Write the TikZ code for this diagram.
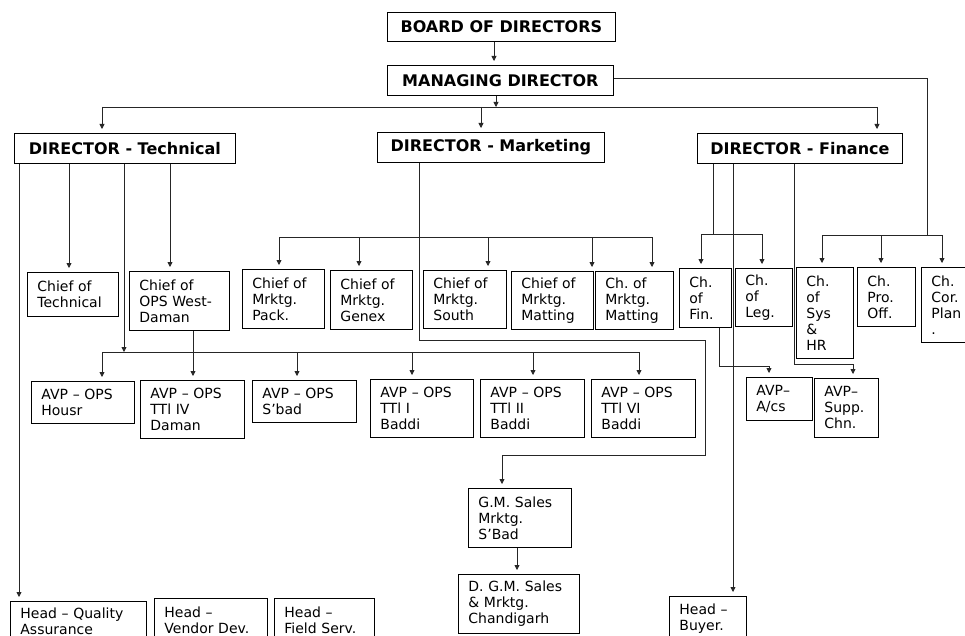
\documentclass[tikz,border=0pt]{standalone}
\usepackage{fontspec}
\setmainfont{DejaVu Sans}
\usetikzlibrary{arrows.meta}
\begin{document}
\begin{tikzpicture}[x=1pt,y=-1pt,
  box/.style={draw=black, line width=0.8pt, anchor=north west, inner ysep=0pt, font=\fontsize{14}{16}\selectfont},
  lbox/.style={box, inner xsep=10pt, align=left},
  tbox/.style={box, inner xsep=0pt, align=center, font=\bfseries\fontsize{16}{18}\selectfont},
  con/.style={line width=0.8pt, draw=black!85},
  arr/.style={con, -{Triangle[length=5pt,width=5pt]}},
  arrn/.style={arr, shorten >=4pt}]
\useasboundingbox (0,0) rectangle (965,636);
\clip (0,0) rectangle (965,636);
\fill[white] (0,0) rectangle (965,636);

% top levels
\node[tbox, minimum width=228pt, minimum height=29pt] (bod) at (387,12) {BOARD OF DIRECTORS};
\node[tbox, minimum width=226pt, minimum height=30pt] (md) at (387,65) {MANAGING DIRECTOR};
\node[tbox, minimum width=221pt, minimum height=30pt] (dt) at (14,133) {DIRECTOR - Technical};
\node[tbox, minimum width=227pt, minimum height=30pt] (dm) at (377,132) {DIRECTOR - Marketing};
\node[tbox, minimum width=205pt, minimum height=30pt] (df) at (697,133) {DIRECTOR - Finance};

% chiefs
\node[lbox, text width=71pt, minimum height=44pt] (cot) at (27,272) {Chief~of\\Technical};
\node[lbox, text width=80pt, minimum height=59pt] (cow) at (129,271) {Chief~of\\OPS~West-\\Daman};
\node[lbox, text width=62pt, minimum height=59pt] (cmp) at (242,269) {Chief~of\\Mrktg.\\Pack.};
\node[lbox, text width=62pt, minimum height=59pt] (cmg) at (330,270) {Chief~of\\Mrktg.\\Genex};
\node[lbox, text width=63pt, minimum height=58pt] (cms) at (423,270) {Chief~of\\Mrktg.\\South};
\node[lbox, text width=62pt, minimum height=58pt] (cmm) at (511,271) {Chief~of\\Mrktg.\\Matting};
\node[lbox, text width=58pt, minimum height=58pt] (cmm2) at (595,271) {Ch.~of\\Mrktg.\\Matting};
\node[lbox, text width=32pt, minimum height=59pt] (cfin) at (679,268) {Ch.\\of\\Fin.};
\node[lbox, text width=37pt, minimum height=58pt] (cleg) at (735,268) {Ch.\\of\\Leg.};
\node[lbox, text width=37pt, minimum height=91pt] (csys) at (796,267) {Ch.\\of\\Sys\\\&\\HR};
\node[lbox, text width=38pt, minimum height=59pt] (cpro) at (857,267) {Ch.\\Pro.\\Off.};
\node[lbox, text width=34pt, minimum height=75pt] (ccor) at (921,267) {Ch.\\Cor.\\Plan\\.};

% AVPs
\node[lbox, text width=83pt, minimum height=42pt] (ah) at (31,381) {AVP~–~OPS\\Housr};
\node[lbox, text width=84pt, minimum height=58pt] (a4) at (140,380) {AVP~–~OPS\\TTl~IV\\Daman};
\node[lbox, text width=84pt, minimum height=42pt] (asb) at (252,380) {AVP~–~OPS\\S’bad};
\node[lbox, text width=83pt, minimum height=58pt] (a1) at (370,379) {AVP~–~OPS\\TTl~I\\Baddi};
\node[lbox, text width=84pt, minimum height=58pt] (a2) at (480,379) {AVP~–~OPS\\TTl~II\\Baddi};
\node[lbox, text width=84pt, minimum height=58pt] (a6) at (591,379) {AVP~–~OPS\\TTl~VI\\Baddi};
\node[lbox, text width=46pt, minimum height=43pt] (aac) at (746,377) {AVP–\\A/cs};
\node[lbox, text width=44pt, minimum height=59pt] (asc) at (814,378) {AVP–\\Supp.\\Chn.};

% marketing lower
\node[lbox, text width=83pt, minimum height=59pt] (gms) at (468,488) {G.M.~Sales\\Mrktg.\\S’Bad};
\node[lbox, text width=101pt, minimum height=59pt] (dgm) at (458,574) {D.~G.M.~Sales\\\&~Mrktg.\\Chandigarh};

% heads
\node[lbox, text width=116pt, minimum height=40pt] (hqa) at (10,601) {Head~–~Quality\\Assurance};
\node[lbox, text width=93pt, minimum height=44pt] (hvd) at (154,598) {Head~–\\Vendor~Dev.};
\node[lbox, text width=80pt, minimum height=44pt] (hfs) at (274,598) {Head~–\\Field~Serv.};
\node[lbox, text width=57pt, minimum height=44pt] (hb) at (669,596) {Head~–\\Buyer.};

% board -> MD -> directors
\coordinate (xA) at (494,0);
\coordinate (xB) at (496,107);
\coordinate (busL) at (102,107);
\coordinate (busR) at (877,107);
\coordinate (xM) at (481,107);
\draw[arrn] (bod.south -| xA) -- (md.north -| xA);
\draw[arr] (md.south -| xB) -- (xB);
\draw[con] (busL) -- (busR);
\draw[arrn] (busL) -- (busL |- dt.north);
\draw[arrn] (xM) -- (xM |- dm.north);
\draw[arrn] (busR) -- (busR |- df.north);

% MD right branch
\coordinate (rA) at (927,78);
\coordinate (r1) at (822,235);
\coordinate (r2) at (881,235);
\coordinate (r3) at (942,235);
\draw[con] (md.east |- rA) -- (rA) -- (rA |- r1);
\draw[con] (r1) -- (r3);
\draw[arrn] (r1) -- (r1 |- csys.north);
\draw[arrn] (r2) -- (r2 |- cpro.north);
\draw[arrn] (r3) -- (r3 |- ccor.north);

% technical
\coordinate (t1) at (19,0);
\coordinate (t2) at (69,0);
\coordinate (t3) at (124,352);
\coordinate (t4) at (170,0);
\draw[arrn] (dt.south -| t1) -- (hqa.north -| t1);
\draw[arrn] (dt.south -| t2) -- (cot.north -| t2);
\draw[arr] (dt.south -| t3) -- (t3);
\draw[arrn] (dt.south -| t4) -- (cow.north -| t4);
\coordinate (v1) at (102,352);
\coordinate (v2) at (297,352);
\coordinate (v3) at (412,352);
\coordinate (v4) at (533,352);
\coordinate (v5) at (639,352);
\draw[con] (v1) -- (v5);
\draw[arrn] (v1) -- (v1 |- ah.north);
\draw[arrn] (v2) -- (v2 |- asb.north);
\draw[arrn] (v3) -- (v3 |- a1.north);
\draw[arrn] (v4) -- (v4 |- a2.north);
\draw[arrn] (v5) -- (v5 |- a6.north);
\coordinate (w) at (193,0);
\draw[arrn] (cow.south -| w) -- (a4.north -| w);

% marketing
\coordinate (mX) at (419,0);
\coordinate (mA) at (705,340);
\coordinate (mB) at (502,455);
\draw[arrn] (dm.south -| mX) |- (mA) |- (mB) -- (mB |- gms.north);
\coordinate (k1) at (279,237);
\coordinate (k2) at (359,237);
\coordinate (k3) at (488,237);
\coordinate (k4) at (592,237);
\coordinate (k5) at (652,237);
\draw[con] (k1) -- (k5);
\draw[arrn] (k1) -- (k1 |- cmp.north);
\draw[arrn] (k2) -- (k2 |- cmg.north);
\draw[arrn] (k3) -- (k3 |- cms.north);
\draw[arrn] (k4) -- (k4 |- cmm.north);
\draw[arrn] (k5) -- (k5 |- cmm2.north);
\coordinate (g) at (517,0);
\draw[arrn] (gms.south -| g) -- (dgm.north -| g);

% finance
\coordinate (f1) at (713,234);
\coordinate (fL) at (701,234);
\coordinate (fR) at (762,234);
\draw[con] (df.south -| f1) -- (f1);
\draw[con] (fL) -- (fR);
\draw[arrn] (fL) -- (fL |- cfin.north);
\draw[arrn] (fR) -- (fR |- cleg.north);
\coordinate (f2) at (733,0);
\draw[arrn] (df.south -| f2) -- (hb.north -| f2);
\coordinate (f3) at (794,0);
\coordinate (f3b) at (853,364);
\draw[arrn] (df.south -| f3) |- (f3b) -- (f3b |- asc.north);
\coordinate (f4) at (719,0);
\coordinate (f4b) at (769,366);
\draw[arrn] (cfin.south -| f4) |- (f4b) -- (f4b |- aac.north);
\end{tikzpicture}
\end{document}
